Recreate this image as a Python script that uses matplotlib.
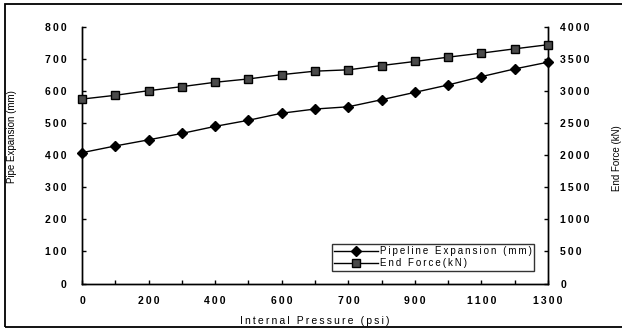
import matplotlib.pyplot as plt
from matplotlib.patches import Rectangle

# data
pressure = ['0', '100', '200', '300', '400', '500', '600', '650',
            '700', '800', '900', '1000', '1100', '1200', '1300']
expansion_mm = [408, 429, 448, 468, 490, 509, 531, 544,
                551, 573, 596, 619, 645, 669, 690]
end_force_kn = [2875, 2934, 3006, 3069, 3137, 3189, 3256, 3310,
                3331, 3398, 3461, 3528, 3591, 3658, 3722]
left_ticks = [0, 100, 200, 300, 400, 500, 600, 700, 800]
right_ticks = [0, 500, 1000, 1500, 2000, 2500, 3000, 3500, 4000]

plt.rcParams['font.family'] = ['Liberation Sans', 'DejaVu Sans']

SP = '\u2009'


def spaced(s):
    # stretched lettering like the scanned original
    return SP.join(s)


fig = plt.figure(figsize=(6.22, 3.36), dpi=100)
ax = fig.add_axes([0.132, 0.156, 0.749, 0.764])
ax2 = ax.twinx()

x = list(range(len(pressure)))
l1, = ax.plot(x, expansion_mm, color='black', lw=1.0, marker='D', ms=5,
              mfc='black', mec='black', clip_on=False, zorder=3)
l2, = ax2.plot(x, end_force_kn, color='black', lw=1.0, marker='s', ms=5.5,
               mfc='#4a4a4a', mec='black', mew=1.0, clip_on=False, zorder=3)

ax.set_xlim(0, len(pressure) - 1)
ax.set_ylim(0, 800)
ax2.set_ylim(0, 4000)

ax.set_xticks(x)
ax.set_xticklabels([spaced(p) if i % 2 == 0 else '' for i, p in enumerate(pressure)])
ax.set_yticks(left_ticks)
ax.set_yticklabels([spaced(str(v)) for v in left_ticks])
ax2.set_yticks(right_ticks)
ax2.set_yticklabels([spaced(str(v)) for v in right_ticks])

for a in (ax, ax2):
    a.spines['top'].set_visible(False)
    for s in a.spines.values():
        s.set_linewidth(1.0)
    a.tick_params(direction='in', length=3, width=1.0, labelsize=7.5)
ax.tick_params(axis='y', pad=11)
ax.tick_params(axis='x', pad=9)
ax2.tick_params(axis='y', pad=9)
for lab in ax.get_xticklabels() + ax.get_yticklabels() + ax2.get_yticklabels():
    lab.set_fontweight('bold')

ax.set_xlabel(spaced('Internal Pressure (psi)'), fontsize=7.5, labelpad=7)
ax.set_ylabel('Pipe Expansion (mm)', fontsize=7)
ax.yaxis.set_label_coords(-0.139, 0.573)
ax2.set_ylabel('End Force (kN)', fontsize=7)
ax2.yaxis.set_label_coords(1.137, 0.49)

leg = ax2.legend([l1, l2],
                 [spaced('Pipeline Expansion (mm)'), spaced('End Force(kN)')],
                 loc='lower left', bbox_to_anchor=(0.536, 0.05, 0.43, 0.13),
                 fontsize=7, frameon=True, fancybox=False, handlelength=4.5,
                 handletextpad=0.2, borderpad=0.25, labelspacing=0.2,
                 borderaxespad=0)
leg.get_frame().set_edgecolor('black')
leg.get_frame().set_linewidth(1.0)

# outer chart border (scanned frame)
fig.patches.append(Rectangle((5 / 622, 0.027), 1.1, 0.961, transform=fig.transFigure,
                             fill=False, edgecolor='black', lw=1.3))

fig.savefig('out.png', dpi=100)
